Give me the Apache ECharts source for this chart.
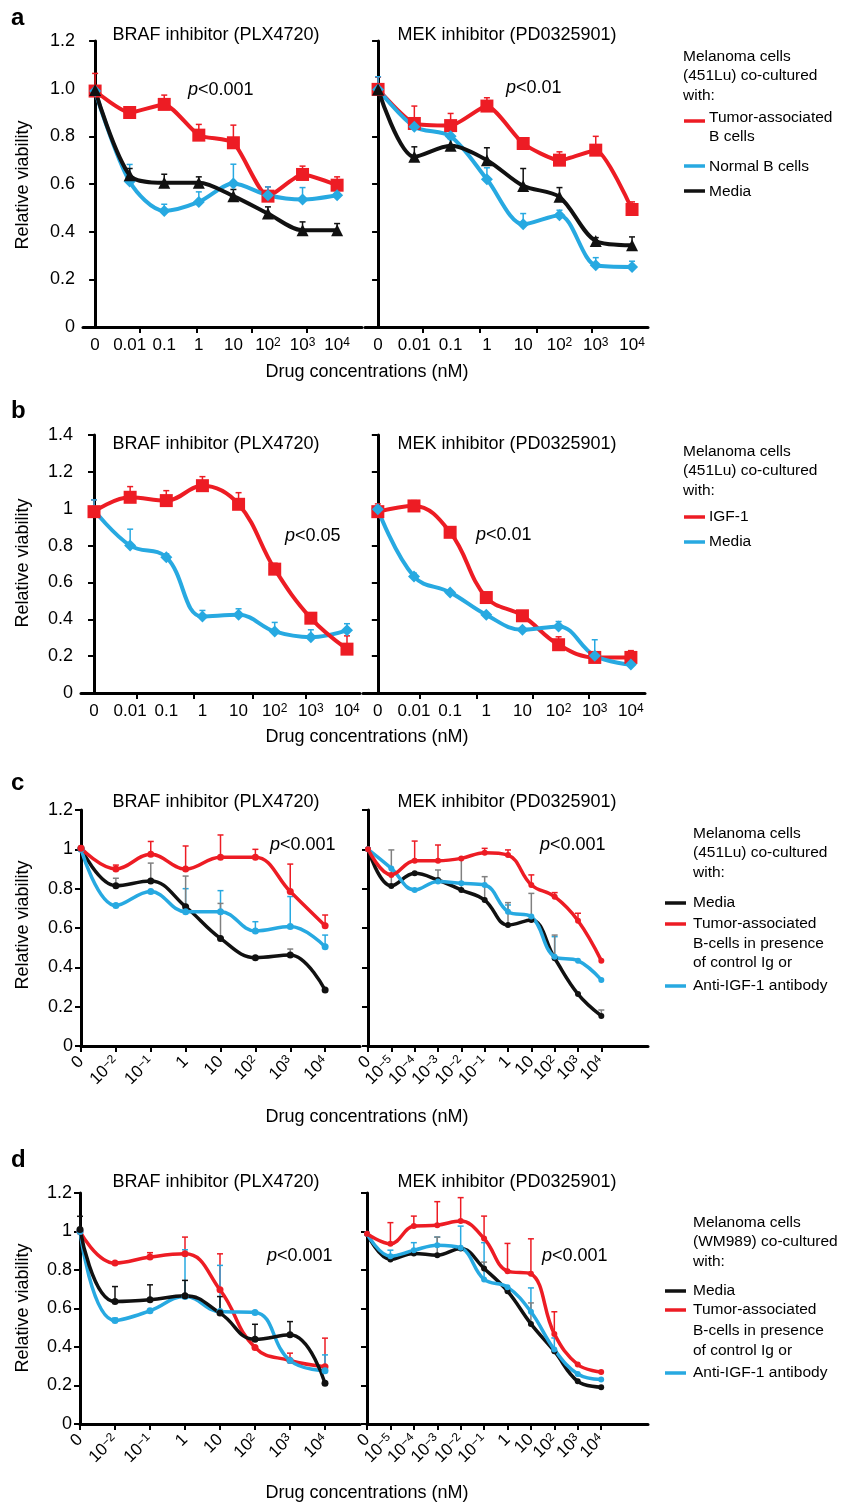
<!DOCTYPE html>
<html>
<head>
<meta charset="utf-8">
<script src="https://cdn.jsdelivr.net/npm/echarts@6/dist/echarts.min.js"></script>
<style>
  html, body { margin: 0; padding: 0; background: #fff; }
  #main { width: 844px; height: 1503px; }
</style>
</head>
<body>
<div id="main"></div>
<script>
// tick labels ('^' marks an exponent)
var abLabels = ['0', '0.01', '0.1', '1', '10', '10^2', '10^3', '10^4'];
var brafLabels = ['0', '10^-2', '10^-1', '1', '10', '10^2', '10^3', '10^4'];
var mekLabels = ['0', '10^-5', '10^-4', '10^-3', '10^-2', '10^-1', '1', '10', '10^2', '10^3', '10^4'];

// x tick marks for a / b (they sit between the points)
var aBrafTicks = [1.3, 2.95, 4.54, 6.13];
var aMekTicks = [1.24, 2.81, 4.38, 5.9];
var bBrafTicks = [1.19, 2.77, 4.38, 5.87];
var bMekTicks = [1.16, 2.74, 4.29, 5.84];

// panel a, BRAF
var aBrafTumor = [0.99, 0.90, 0.934, 0.805, 0.773, 0.549, 0.64, 0.595];
var aBrafTumorErr = [1.064, 0.924, 0.973, 0.85, 0.847, 0.588, 0.675, 0.63];
var aBrafNormal = [0.99, 0.61, 0.487, 0.525, 0.602, 0.553, 0.535, 0.553];
var aBrafNormalErr = [null, 0.682, 0.515, 0.567, 0.683, 0.588, 0.585, 0.574];
var aBrafMedia = [0.994, 0.637, 0.605, 0.605, 0.549, 0.476, 0.406, 0.406];
var aBrafMediaErr = [null, 0.665, 0.641, 0.63, 0.577, 0.504, 0.441, 0.434];
// panel a, MEK
var aMekTumor = [0.997, 0.854, 0.845, 0.927, 0.77, 0.70, 0.742, 0.493];
var aMekTumorErr = [1.048, 0.927, 0.896, 0.962, 0.787, 0.735, 0.80, 0.525];
var aMekNormal = [0.997, 0.84, 0.80, 0.62, 0.431, 0.469, 0.259, 0.252];
var aMekNormalErr = [1.05, null, null, 0.668, 0.476, 0.49, 0.291, 0.276];
var aMekMedia = [0.997, 0.714, 0.76, 0.70, 0.592, 0.546, 0.361, 0.343];
var aMekMediaErr = [null, 0.756, 0.791, 0.752, 0.665, 0.585, 0.375, 0.378];

// panel b
var bBrafIgf = [0.984, 1.062, 1.044, 1.125, 1.024, 0.672, 0.406, 0.238];
var bBrafIgfErr = [1.048, 1.12, 1.098, 1.174, 1.087, 0.704, 0.434, 0.31];
var bBrafMedia = [0.993, 0.80, 0.737, 0.415, 0.424, 0.334, 0.303, 0.34];
var bBrafMediaErr = [1.048, 0.889, 0.755, 0.448, 0.457, 0.383, 0.343, 0.376];
var bMekIgf = [0.984, 1.015, 0.872, 0.518, 0.419, 0.262, 0.193, 0.193];
var bMekIgfErr = [1.026, 1.044, null, 0.545, 0.44, 0.305, null, 0.23];
var bMekMedia = [0.997, 0.632, 0.546, 0.424, 0.343, 0.361, 0.202, 0.154];
var bMekMediaErr = [null, 0.65, null, null, null, 0.388, 0.289, 0.184];

// panel c
var cBrafMedia = [1.005, 0.815, 0.839, 0.708, 0.547, 0.449, 0.463, 0.285];
var cBrafMediaErr = [null, 0.853, 0.93, 0.864, 0.725, null, 0.493, null];
var cBrafTumor = [1.005, 0.90, 0.975, 0.90, 0.96, 0.96, 0.785, 0.612];
var cBrafTumorErr = [null, 0.92, 1.04, 1.017, 1.073, 1.0, 0.925, 0.666];
var cBrafAnti = [1.0, 0.714, 0.785, 0.683, 0.683, 0.585, 0.607, 0.505];
var cBrafAntiErr = [null, null, null, 0.80, 0.79, 0.632, 0.76, 0.564];
var cMekMedia = [1.0, 0.814, 0.878, 0.844, 0.793, 0.742, 0.615, 0.641, 0.446, 0.264, 0.153];
var cMekMediaErr = [null, 0.997, null, 0.895, 0.958, 0.861, 0.729, 0.776, 0.564, null, 0.183];
var cMekTumor = [1.0, 0.87, 0.942, 0.942, 0.954, 0.983, 0.971, 0.819, 0.759, 0.637, 0.434];
var cMekTumorErr = [null, null, 1.042, 1.022, null, 1.005, 0.997, 0.87, 0.78, 0.675, null];
var cMekAnti = [1.0, 0.903, 0.793, 0.836, 0.827, 0.819, 0.683, 0.658, 0.454, 0.434, 0.336];
var cMekAntiErr = [null, null, null, null, null, null, 0.717, null, 0.556, null, null];

// panel d
var dBrafMedia = [1.01, 0.636, 0.645, 0.666, 0.576, 0.44, 0.463, 0.212];
var dBrafMediaErr = [1.079, 0.714, 0.723, 0.746, 0.662, 0.518, 0.532, null];
var dBrafTumor = [1.0, 0.836, 0.867, 0.884, 0.697, 0.397, 0.33, 0.298];
var dBrafTumorErr = [null, null, 0.89, 0.971, 0.884, null, 0.368, 0.446];
var dBrafAnti = [1.0, 0.538, 0.588, 0.662, 0.584, 0.579, 0.33, 0.277];
var dBrafAntiErr = [null, 0.55, null, 0.905, 0.824, null, null, 0.359];
var dMekMedia = [0.988, 0.855, 0.886, 0.877, 0.912, 0.808, 0.69, 0.52, 0.378, 0.222, 0.191];
var dMekMediaErr = [null, null, null, 0.971, null, 0.841, null, 0.629, null, null, null];
var dMekTumor = [0.988, 0.936, 1.028, 1.033, 1.054, 0.964, 0.794, 0.78, 0.468, 0.309, 0.27];
var dMekTumorErr = [null, 1.046, 1.08, 1.155, 1.176, 1.08, 0.938, 0.962, 0.583, null, null];
var dMekAnti = [0.988, 0.872, 0.902, 0.929, 0.915, 0.751, 0.711, 0.583, 0.387, 0.26, 0.231];
var dMekAntiErr = [null, 0.903, 0.942, 0.971, 1.028, 0.942, null, 0.707, 0.447, null, null];

var FONT = '"Liberation Sans", Arial, Helvetica, sans-serif';
var RED = '#ed1c24', BLUE = '#27a9e1', BLACK = '#111111', GREY = '#808080';

var chart = echarts.init(document.getElementById('main'));

var grids = [
    {left: 83, top: 41, width: 279, height: 286},
    {left: 365, top: 41, width: 283, height: 286},
    {left: 81, top: 435, width: 279, height: 258},
    {left: 363, top: 435, width: 282, height: 258},
    {left: 81, top: 810, width: 279, height: 236},
    {left: 368, top: 810, width: 280, height: 236},
    {left: 80, top: 1193, width: 280, height: 231},
    {left: 367, top: 1193, width: 281, height: 231}
];

// '10^-2' -> rich text with a raised exponent
function supLabel(s) {
    if (!s) return '';
    var k = s.indexOf('^');
    if (k < 0) return '{b|' + s + '}';
    return '{b|' + s.slice(0, k) + '}{s|' + s.slice(k + 1).replace('-', '−') + '}';
}

var richLabel = {
    b: {fontSize: 17, lineHeight: 17, verticalAlign: 'bottom', fontFamily: FONT, color: '#000'},
    s: {fontSize: 12, lineHeight: 12, padding: [0, 0, 7, 0], verticalAlign: 'top', fontFamily: FONT, color: '#000'}
};

var axisLineStyle = {show: true, onZero: false, lineStyle: {color: '#000', width: 3}};
var tickLineStyle = {color: '#000', width: 2};

// a, b: value axis, points between ticks
function xAxisFor(gi, min, max, labels, ticks) {
    return {
        type: 'value', gridIndex: gi, min: min, max: max,
        axisLine: axisLineStyle,
        splitLine: {show: false},
        axisTick: {show: true, customValues: ticks, length: 6, lineStyle: tickLineStyle},
        axisLabel: {
            customValues: labels.map(function (l, i) { return i; }),
            formatter: function (v) { return supLabel(labels[Math.round(v)]); },
            showMinLabel: true, showMaxLabel: true,
            color: '#000', fontFamily: FONT, margin: 10, rich: richLabel
        }
    };
}

// c, d: category axis with rotated labels, padded with empty slots on the right
function xAxisCat(gi, labels, pad) {
    var cats = labels.slice();
    for (var i = 0; i < pad; i++) cats.push('');
    return {
        type: 'category', gridIndex: gi, data: cats, boundaryGap: false,
        axisLine: axisLineStyle,
        splitLine: {show: false},
        axisTick: {show: true, length: 6, lineStyle: tickLineStyle,
            interval: function (idx, val) { return val !== ''; }},
        axisLabel: {
            interval: 0, rotate: 45, margin: 13,
            formatter: function (v) { return supLabel(v); },
            color: '#000', fontFamily: FONT, rich: richLabel
        }
    };
}

function yAxisFor(gi, max, showLabels, oneDecimal) {
    return {
        type: 'value', gridIndex: gi, min: 0, max: max, interval: 0.2,
        axisLine: {show: true, lineStyle: {color: '#000', width: 3}},
        axisTick: {show: true, length: 6, lineStyle: tickLineStyle},
        splitLine: {show: false},
        axisLabel: {
            show: showLabels, color: '#000', fontSize: 18, fontFamily: FONT, margin: 8,
            formatter: function (v) {
                if (v === 0) return '0';
                return oneDecimal ? v.toFixed(1) : String(+v.toFixed(1));
            }
        }
    };
}

var series = [];

function addLine(gi, name, vals, color, symbol, size, width, smooth) {
    series.push({
        type: 'line', name: name, xAxisIndex: gi, yAxisIndex: gi,
        data: vals.map(function (v, i) { return [i, v]; }),
        smooth: smooth, symbol: symbol, symbolSize: size,
        lineStyle: {color: color, width: width},
        itemStyle: {color: color},
        z: 3, animation: false
    });
}

function addErr(gi, vals, tops, color) {
    series.push({
        type: 'custom', xAxisIndex: gi, yAxisIndex: gi,
        data: tops.map(function (t, i) { return t == null ? null : [i, vals[i], t]; })
            .filter(function (d) { return d; }),
        encode: {x: 0, y: [1, 2]},
        renderItem: function (params, api) {
            var p0 = api.coord([api.value(0), api.value(1)]);
            var p1 = api.coord([api.value(0), api.value(2)]);
            return {
                type: 'group',
                children: [
                    {type: 'line', shape: {x1: p0[0], y1: p0[1], x2: p1[0], y2: p1[1]},
                        style: {stroke: color, lineWidth: 1.5}},
                    {type: 'line', shape: {x1: p1[0] - 3, y1: p1[1], x2: p1[0] + 3, y2: p1[1]},
                        style: {stroke: color, lineWidth: 1.5}}
                ]
            };
        },
        z: 2, animation: false
    });
}

// a
addErr(0, aBrafTumor, aBrafTumorErr, RED);
addErr(0, aBrafNormal, aBrafNormalErr, BLUE);
addErr(0, aBrafMedia, aBrafMediaErr, BLACK);
addLine(0, 'Tumor-associated B cells', aBrafTumor, RED, 'rect', 13, 4, 0.2);
addLine(0, 'Normal B cells', aBrafNormal, BLUE, 'diamond', 12, 4, 0.3);
addLine(0, 'Media', aBrafMedia, BLACK, 'triangle', 12, 4, 0.3);
addErr(1, aMekTumor, aMekTumorErr, RED);
addErr(1, aMekNormal, aMekNormalErr, BLUE);
addErr(1, aMekMedia, aMekMediaErr, BLACK);
addLine(1, 'Tumor-associated B cells', aMekTumor, RED, 'rect', 13, 4, 0.2);
addLine(1, 'Normal B cells', aMekNormal, BLUE, 'diamond', 12, 4, 0.3);
addLine(1, 'Media', aMekMedia, BLACK, 'triangle', 12, 4, 0.3);
// b
addErr(2, bBrafIgf, bBrafIgfErr, RED);
addErr(2, bBrafMedia, bBrafMediaErr, BLUE);
addLine(2, 'Media', bBrafMedia, BLUE, 'diamond', 12, 4, 0.4);
addLine(2, 'IGF-1', bBrafIgf, RED, 'rect', 13, 4, 0.4);
addErr(3, bMekIgf, bMekIgfErr, RED);
addErr(3, bMekMedia, bMekMediaErr, BLUE);
addLine(3, 'IGF-1', bMekIgf, RED, 'rect', 13, 4, 0.4);
addLine(3, 'Media', bMekMedia, BLUE, 'diamond', 12, 4, 0.4);
// c
addErr(4, cBrafTumor, cBrafTumorErr, RED);
addErr(4, cBrafAnti, cBrafAntiErr, BLUE);
addErr(4, cBrafMedia, cBrafMediaErr, GREY);
addLine(4, 'Media', cBrafMedia, BLACK, 'circle', 7, 3.5, 0.4);
addLine(4, 'Anti-IGF-1 antibody', cBrafAnti, BLUE, 'circle', 7, 3.5, 0.4);
addLine(4, 'Tumor-associated', cBrafTumor, RED, 'circle', 7, 3.5, 0.4);
addErr(5, cMekTumor, cMekTumorErr, RED);
addErr(5, cMekAnti, cMekAntiErr, BLUE);
addErr(5, cMekMedia, cMekMediaErr, GREY);
addLine(5, 'Media', cMekMedia, BLACK, 'circle', 6, 3.5, 0.4);
addLine(5, 'Anti-IGF-1 antibody', cMekAnti, BLUE, 'circle', 6, 3.5, 0.4);
addLine(5, 'Tumor-associated', cMekTumor, RED, 'circle', 6, 3.5, 0.4);
// d
addErr(6, dBrafTumor, dBrafTumorErr, RED);
addErr(6, dBrafAnti, dBrafAntiErr, BLUE);
addErr(6, dBrafMedia, dBrafMediaErr, BLACK);
addLine(6, 'Tumor-associated', dBrafTumor, RED, 'circle', 7, 3.5, 0.45);
addLine(6, 'Anti-IGF-1 antibody', dBrafAnti, BLUE, 'circle', 7, 3.5, 0.45);
addLine(6, 'Media', dBrafMedia, BLACK, 'circle', 7, 3.5, 0.45);
addErr(7, dMekTumor, dMekTumorErr, RED);
addErr(7, dMekAnti, dMekAntiErr, BLUE);
addErr(7, dMekMedia, dMekMediaErr, GREY);
addLine(7, 'Media', dMekMedia, BLACK, 'circle', 6, 3.5, 0.4);
addLine(7, 'Anti-IGF-1 antibody', dMekAnti, BLUE, 'circle', 6, 3.5, 0.4);
addLine(7, 'Tumor-associated', dMekTumor, RED, 'circle', 6, 3.5, 0.4);

// texts
var graphic = [];
function txt(x, y, text, style, extra) {
    var el = {type: 'text', x: x, y: y, silent: true,
        style: Object.assign({text: text, fill: '#000', fontSize: 18, fontFamily: FONT,
            align: 'left', verticalAlign: 'middle'}, style || {})};
    graphic.push(Object.assign(el, extra || {}));
}
function pval(x, y, rest) {
    txt(x, y, '{i|p}' + rest, {rich: {i: {fontStyle: 'italic', fontSize: 18, fontFamily: FONT}}});
}
function legLine(x, y, color) {
    graphic.push({type: 'line', silent: true, shape: {x1: x, y1: y, x2: x + 21, y2: y},
        style: {stroke: color, lineWidth: 3.5}});
}
function leg(x, y, text) {
    txt(x, y, text, {fontSize: 15.5});
}

var letters = [['a', 18], ['b', 411], ['c', 783], ['d', 1160]];
letters.forEach(function (l) { txt(11, l[1], l[0], {fontSize: 24, fontWeight: 'bold'}); });

var titleY = [35, 444, 802, 1182];
titleY.forEach(function (y) {
    txt(216, y, 'BRAF inhibitor (PLX4720)', {align: 'center'});
    txt(507, y, 'MEK inhibitor (PD0325901)', {align: 'center'});
});

var viabY = [185, 563, 925, 1308];
viabY.forEach(function (y) {
    txt(23, y, 'Relative viability', {align: 'center'}, {rotation: Math.PI / 2});
});
var drugY = [372, 737, 1117, 1493];
drugY.forEach(function (y) {
    txt(367, y, 'Drug concentrations (nM)', {align: 'center'});
});

pval(188, 90, '<0.001');
pval(506, 88, '<0.01');
pval(285, 536, '<0.05');
pval(476, 535, '<0.01');
pval(270, 845, '<0.001');
pval(540, 845, '<0.001');
pval(267, 1256, '<0.001');
pval(542, 1256, '<0.001');

// legend a
leg(683, 57, 'Melanoma cells');
leg(683, 76, '(451Lu) co-cultured');
leg(683, 96, 'with:');
legLine(684, 121, RED); leg(709, 118, 'Tumor-associated'); leg(709, 137, 'B cells');
legLine(684, 166, BLUE); leg(709, 167, 'Normal B cells');
legLine(684, 191, BLACK); leg(709, 192, 'Media');
// legend b
leg(683, 452, 'Melanoma cells');
leg(683, 471, '(451Lu) co-cultured');
leg(683, 491, 'with:');
legLine(684, 517, RED); leg(709, 517, 'IGF-1');
legLine(684, 542, BLUE); leg(709, 542, 'Media');
// legend c
leg(693, 834, 'Melanoma cells');
leg(693, 853, '(451Lu) co-cultured');
leg(693, 873, 'with:');
legLine(665, 903, BLACK); leg(693, 903, 'Media');
legLine(665, 924, RED); leg(693, 924, 'Tumor-associated');
leg(693, 944, 'B-cells in presence'); leg(693, 963, 'of control Ig or');
legLine(665, 986, BLUE); leg(693, 986, 'Anti-IGF-1 antibody');
// legend d
leg(693, 1223, 'Melanoma cells');
leg(693, 1242, '(WM989) co-cultured');
leg(693, 1262, 'with:');
legLine(665, 1291, BLACK); leg(693, 1291, 'Media');
legLine(665, 1310, RED); leg(693, 1310, 'Tumor-associated');
leg(693, 1331, 'B-cells in presence'); leg(693, 1351, 'of control Ig or');
legLine(665, 1373, BLUE); leg(693, 1373, 'Anti-IGF-1 antibody');

var option = {
    backgroundColor: '#fff',
    animation: false,
    textStyle: {fontFamily: FONT},
    grid: grids,
    xAxis: [
        xAxisFor(0, -0.35, 7.72, abLabels, aBrafTicks),
        xAxisFor(1, -0.36, 7.44, abLabels, aMekTicks),
        xAxisFor(2, -0.36, 7.36, abLabels, bBrafTicks),
        xAxisFor(3, -0.41, 7.39, abLabels, bMekTicks),
        xAxisCat(4, brafLabels, 1),
        xAxisCat(5, mekLabels, 2),
        xAxisCat(6, brafLabels, 1),
        xAxisCat(7, mekLabels, 2)
    ],
    yAxis: [
        yAxisFor(0, 1.2, true, true),
        yAxisFor(1, 1.2, false, true),
        yAxisFor(2, 1.4, true, false),
        yAxisFor(3, 1.4, false, false),
        yAxisFor(4, 1.2, true, false),
        yAxisFor(5, 1.2, false, false),
        yAxisFor(6, 1.2, true, false),
        yAxisFor(7, 1.2, false, false)
    ],
    graphic: graphic,
    series: series
};
chart.setOption(option);
</script>
</body>
</html>
